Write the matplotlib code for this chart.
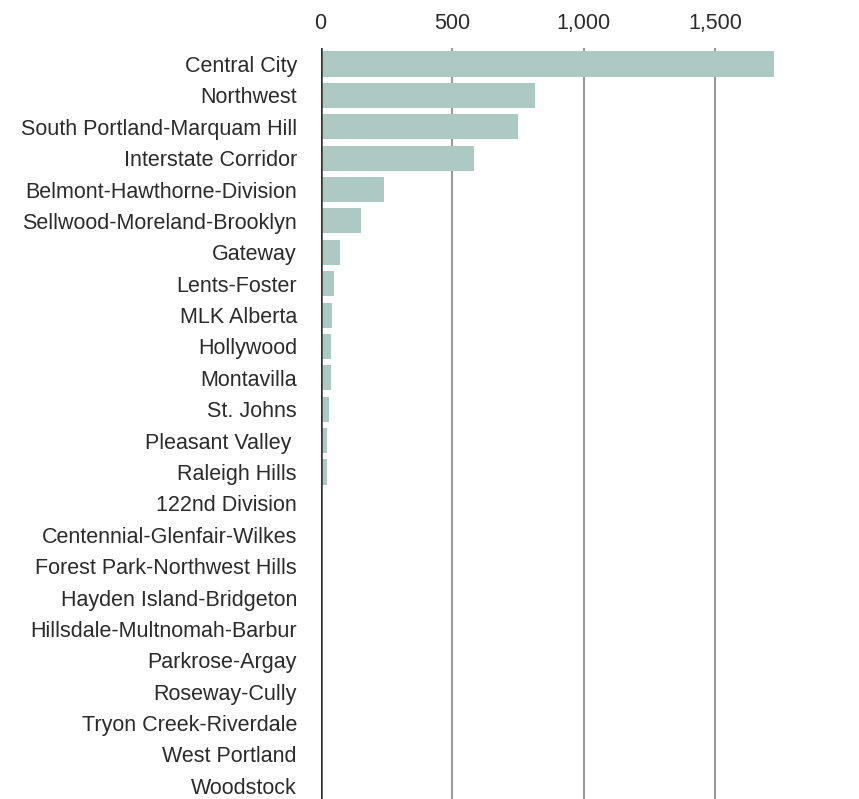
import matplotlib.pyplot as plt
import numpy as np

# neighbourhoods, top to bottom
areas = ['Central City', 'Northwest', 'South Portland-Marquam Hill', 'Interstate Corridor',
         'Belmont-Hawthorne-Division', 'Sellwood-Moreland-Brooklyn', 'Gateway', 'Lents-Foster',
         'MLK Alberta', 'Hollywood', 'Montavilla', 'St. Johns', 'Pleasant Valley ',
         'Raleigh Hills', '122nd Division', 'Centennial-Glenfair-Wilkes',
         'Forest Park-Northwest Hills', 'Hayden Island-Bridgeton', 'Hillsdale-Multnomah-Barbur',
         'Parkrose-Argay', 'Roseway-Cully', 'Tryon Creek-Riverdale', 'West Portland', 'Woodstock']
values = [1725, 815, 752, 584, 240, 154, 76, 52, 45, 39, 39, 31, 24, 24,
          4, 2, 2, 2, 2, 2, 2, 2, 2, 2]
xticks = [0, 500, 1000, 1500]
xtick_labels = ['0', '500', '1,000', '1,500']

plt.rcParams['font.family'] = ['Liberation Sans', 'DejaVu Sans']

W, H = 859, 799
fig = plt.figure(figsize=(W / 100, H / 100), dpi=100)
# axes placed in pixel terms: 0 at x=320.5, 1500 at x=715
x0, x1 = 320.5, 850
ytop, ybot = 48.3, 799
ax = fig.add_axes([x0 / W, 1 - ybot / H, (x1 - x0) / W, (ybot - ytop) / H])

y = np.arange(len(areas))
ax.barh(y, values, height=0.8, color='#adc9c4', zorder=2)

ax.set_xlim(0, (x1 - x0) / (394.5 / 1500))
ax.set_ylim(23.42, -0.5)

ax.set_xticks(xticks)
ax.set_xticklabels(xtick_labels)
ax.xaxis.tick_top()
ax.tick_params(axis='x', length=0, pad=10, labelsize=15.5, labelcolor='#2b2b2b')
ax.set_yticks(y)
ax.set_yticklabels(areas)
ax.tick_params(axis='y', length=0, pad=17, labelsize=15.5, labelcolor='#2b2b2b')

for t in xticks[1:]:
    ax.axvline(t, color='#9a9a9a', lw=1.5, zorder=1)
ax.axvline(0, color='#333333', lw=1.8, zorder=3)

for s in ax.spines.values():
    s.set_visible(False)

fig.savefig('out.png', dpi=100)
